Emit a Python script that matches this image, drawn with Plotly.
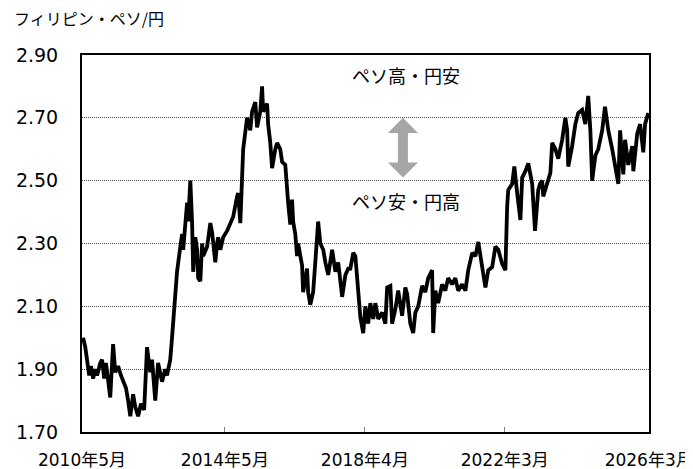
import plotly.graph_objects as go
from datetime import datetime, timedelta

# decimal-year time stamps and PHP/JPY rate
years = [
    2010.36, 2010.42, 2010.47, 2010.53, 2010.58, 2010.64, 2010.70, 2010.75, 2010.84, 2010.89,
    2010.95, 2011.00, 2011.12, 2011.20, 2011.26, 2011.34, 2011.42, 2011.51, 2011.56, 2011.62,
    2011.68, 2011.76, 2011.82, 2011.90, 2011.98, 2012.07, 2012.15, 2012.24, 2012.29, 2012.38,
    2012.46, 2012.57, 2012.66, 2012.71, 2012.80, 2012.85, 2012.94, 2012.99, 2013.08, 2013.13,
    2013.16, 2013.22, 2013.27, 2013.30, 2013.36, 2013.41, 2013.44, 2013.50, 2013.55, 2013.58,
    2013.64, 2013.69, 2013.72, 2013.83, 2013.92, 2013.97, 2014.06, 2014.11, 2014.14, 2014.20,
    2014.28, 2014.39, 2014.48, 2014.56, 2014.67, 2014.70, 2014.76, 2014.81, 2014.84, 2014.95,
    2015.04, 2015.09, 2015.18, 2015.23, 2015.32, 2015.37, 2015.40, 2015.51, 2015.54, 2015.60,
    2015.65, 2015.74, 2015.79, 2015.88, 2015.93, 2016.02, 2016.07, 2016.10, 2016.16, 2016.21,
    2016.24, 2016.30, 2016.35, 2016.38, 2016.49, 2016.52, 2016.63, 2016.66, 2016.72, 2016.80,
    2016.86, 2016.91, 2016.94, 2017.00, 2017.08, 2017.14, 2017.22, 2017.33, 2017.42, 2017.50,
    2017.61, 2017.70, 2017.78, 2017.84, 2017.92, 2017.98, 2018.06, 2018.12, 2018.20, 2018.26,
    2018.34, 2018.40, 2018.48, 2018.54, 2018.62, 2018.73, 2018.82, 2018.87, 2018.96, 2019.01,
    2019.10, 2019.18, 2019.29, 2019.38, 2019.43, 2019.52, 2019.60, 2019.66, 2019.74, 2019.85,
    2019.94, 2020.02, 2020.13, 2020.16, 2020.22, 2020.30, 2020.41, 2020.50, 2020.58, 2020.69,
    2020.78, 2020.86, 2020.97, 2021.06, 2021.14, 2021.25, 2021.34, 2021.42, 2021.53, 2021.62,
    2021.70, 2021.81, 2021.90, 2021.98, 2022.09, 2022.18, 2022.23, 2022.26, 2022.37, 2022.43,
    2022.51, 2022.60, 2022.65, 2022.74, 2022.82, 2022.93, 2023.01, 2023.10, 2023.15, 2023.21,
    2023.24, 2023.35, 2023.44, 2023.49, 2023.58, 2023.66, 2023.77, 2023.86, 2023.91, 2023.94,
    2024.05, 2024.14, 2024.22, 2024.33, 2024.42, 2024.50, 2024.56, 2024.61, 2024.70, 2024.78,
    2024.89, 2024.97, 2025.06, 2025.17, 2025.25, 2025.34, 2025.39, 2025.48, 2025.53, 2025.62,
    2025.73, 2025.76, 2025.87, 2025.95, 2026.04, 2026.09, 2026.18,
]
rates = [
    2.00, 1.97, 1.93, 1.88, 1.91, 1.87, 1.90, 1.88, 1.92, 1.93,
    1.87, 1.92, 1.81, 1.98, 1.89, 1.91, 1.88, 1.85, 1.84, 1.80,
    1.75, 1.82, 1.78, 1.75, 1.79, 1.77, 1.97, 1.89, 1.93, 1.80,
    1.92, 1.86, 1.90, 1.88, 1.93, 2.00, 2.12, 2.21, 2.29, 2.33,
    2.28, 2.385, 2.43, 2.37, 2.50, 2.365, 2.21, 2.32, 2.28, 2.19,
    2.18, 2.30, 2.26, 2.29, 2.365, 2.335, 2.24, 2.30, 2.32, 2.28,
    2.32, 2.34, 2.365, 2.385, 2.45, 2.46, 2.365, 2.51, 2.60, 2.70,
    2.66, 2.72, 2.75, 2.67, 2.72, 2.80, 2.72, 2.745, 2.68, 2.62,
    2.54, 2.60, 2.62, 2.60, 2.56, 2.55, 2.455, 2.43, 2.36, 2.44,
    2.37, 2.33, 2.26, 2.30, 2.23, 2.145, 2.22, 2.145, 2.105, 2.145,
    2.24, 2.34, 2.37, 2.30, 2.28, 2.24, 2.20, 2.28, 2.21, 2.24,
    2.13, 2.20, 2.22, 2.22, 2.27, 2.26, 2.16, 2.065, 2.015, 2.10,
    2.045, 2.11, 2.06, 2.11, 2.06, 2.08, 2.045, 2.16, 2.165, 2.045,
    2.09, 2.15, 2.07, 2.16, 2.14, 2.045, 2.015, 2.08, 2.10, 2.165,
    2.145, 2.19, 2.215, 2.015, 2.15, 2.11, 2.17, 2.15, 2.19, 2.17,
    2.19, 2.15, 2.17, 2.15, 2.215, 2.27, 2.26, 2.305, 2.225, 2.16,
    2.215, 2.225, 2.29, 2.28, 2.235, 2.215, 2.42, 2.47, 2.49, 2.545,
    2.46, 2.375, 2.51, 2.53, 2.555, 2.49, 2.34, 2.47, 2.49, 2.50,
    2.45, 2.49, 2.525, 2.62, 2.60, 2.57, 2.63, 2.70, 2.66, 2.545,
    2.61, 2.68, 2.715, 2.725, 2.68, 2.77, 2.66, 2.50, 2.58, 2.60,
    2.66, 2.735, 2.66, 2.60, 2.55, 2.49, 2.66, 2.52, 2.63, 2.55,
    2.61, 2.53, 2.65, 2.68, 2.59, 2.68, 2.715,
]

tick_dates = ["2010-05-01", "2014-05-01", "2018-04-01", "2022-03-01", "2026-03-12"]
tick_labels = ["2010年5月", "2014年5月", "2018年4月", "2022年3月", "2026年3月"]
y_ticks = [1.70, 1.90, 2.10, 2.30, 2.50, 2.70, 2.90]

unit_label = "フィリピン・ペソ/円"
upper_label = "ペソ高・円安"
lower_label = "ペソ安・円高"


def to_date(y):
    yr = int(y)
    return datetime(yr, 1, 1) + timedelta(days=(y - yr) * 365.25)


dates = [to_date(v) for v in years]

FONT = "DejaVu Sans, Noto Sans CJK JP, sans-serif"
JFONT = "Noto Sans CJK JP, sans-serif"

fig = go.Figure()
fig.add_trace(go.Scatter(
    x=dates, y=rates, mode="lines",
    line=dict(color="black", width=3.8),
    hoverinfo="skip", showlegend=False,
))

# page body has an 8px margin; margins compensate so the plot box lands at 82..649 x 55..432
fig.update_layout(
    width=693, height=469,
    margin=dict(l=74, r=52, t=47, b=45, autoexpand=False),
    paper_bgcolor="white", plot_bgcolor="white",
    font=dict(family=FONT, size=17, color="black"),
    showlegend=False,
)

fig.update_xaxes(
    range=["2010-05-01", "2026-03-15"], automargin=False,
    tickvals=tick_dates, ticktext=tick_labels,
    ticks="inside", ticklen=5, tickwidth=1, tickcolor="#808080",
    showline=True, linecolor="black", linewidth=2, mirror=True,
    showgrid=False, zeroline=False,
    ticklabelstandoff=12,
    tickfont=dict(family=FONT, size=17),
)
fig.update_yaxes(
    range=[1.70, 2.90], automargin=False,
    tickvals=y_ticks, ticktext=[f"{v:.2f}" for v in y_ticks],
    ticks="", showline=True, linecolor="black", linewidth=2, mirror=True,
    showgrid=True, gridcolor="#505050", gridwidth=1, griddash="1px,1px",
    zeroline=False, ticklabelstandoff=18,
    tickfont=dict(family=FONT, size=19),
)

# gray double-headed arrow
cx, hw, sw = 0.566, 0.0265, 0.0088
yt, yb, hh = 2.70, 2.51, 0.048
path = (
    f"M {cx},{yt} L {cx-hw},{yt-hh} L {cx-sw},{yt-hh} L {cx-sw},{yb+hh} "
    f"L {cx-hw},{yb+hh} L {cx},{yb} L {cx+hw},{yb+hh} L {cx+sw},{yb+hh} "
    f"L {cx+sw},{yt-hh} L {cx+hw},{yt-hh} Z"
)
fig.add_shape(type="path", path=path, xref="paper", yref="y",
              fillcolor="#A6A6A6", line=dict(width=0), layer="above")

fig.add_annotation(text=unit_label, xref="paper", yref="paper",
                   x=-0.1235, y=1.098, xanchor="left", yanchor="middle",
                   showarrow=False, font=dict(family=JFONT, size=16, color="black"))
fig.add_annotation(text=upper_label, xref="paper", yref="y",
                   x=0.571, y=2.836, xanchor="center", yanchor="middle",
                   showarrow=False, font=dict(family=JFONT, size=18, color="black"))
fig.add_annotation(text=lower_label, xref="paper", yref="y",
                   x=0.571, y=2.435, xanchor="center", yanchor="middle",
                   showarrow=False, font=dict(family=JFONT, size=18, color="black"))

fig.write_html("out.html")
